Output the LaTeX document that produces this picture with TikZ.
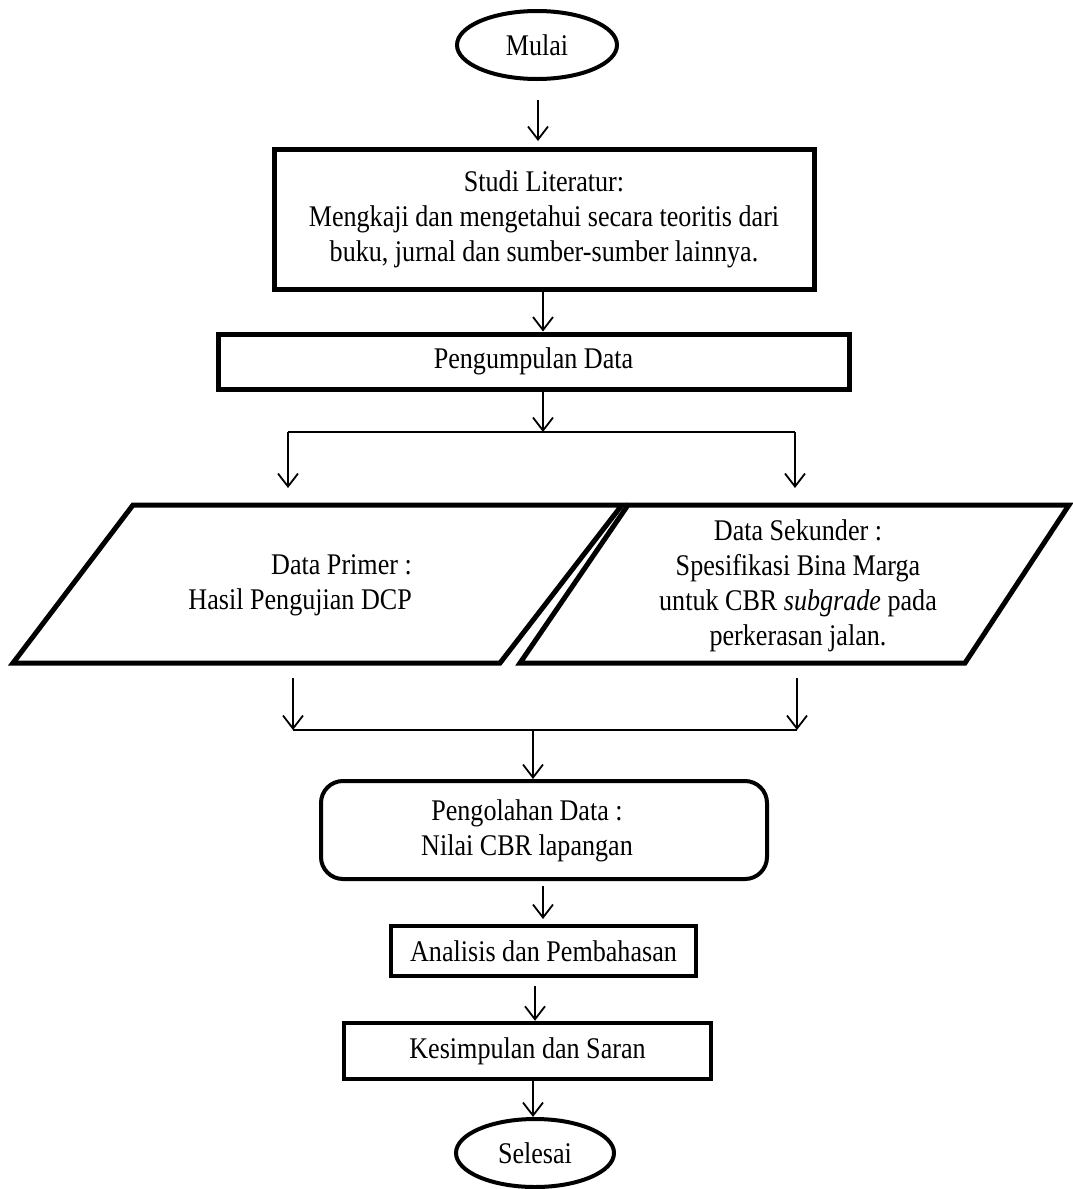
\documentclass[tikz,border=0pt]{standalone}
\usepackage{fontspec}
\setmainfont{Liberation Serif}[FakeStretch=0.87]
\usetikzlibrary{arrows.meta,shapes.geometric}
\begin{document}
\begin{tikzpicture}[x=1pt,y=-1pt,
  txt/.style={font=\fontsize{30}{35}\selectfont, align=center, inner sep=0pt},
  box/.style={draw, line width=5pt, rectangle, inner sep=0pt, txt},
  term/.style={draw, line width=4pt, ellipse, inner sep=0pt, txt},
  arr/.style={line width=1.8pt, -{Straight Barb[length=13pt,width=20pt,line width=1.8pt]}},
  ln/.style={line width=1.8pt}
]
\useasboundingbox (0,0) rectangle (1072,1189);
\fill[white] (0,0) rectangle (1072,1189);

\node[term, minimum width=160pt, minimum height=68pt] (mulai) at (537,45) {Mulai};
\node[box, minimum width=540pt, minimum height=140pt] (studi) at (544,219)
  {Studi Literatur:\\Mengkaji dan mengetahui secara teoritis dari\\buku, jurnal dan sumber-sumber lainnya.};
\node[box, minimum width=631pt, minimum height=55pt] (peng) at (533.5,361.5) {Pengumpulan Data};

\coordinate (split) at (543,432);
\coordinate (sl) at (288,432);
\coordinate (sr) at (795,432);
\coordinate (sle) at (288,488);
\coordinate (sre) at (795,488);

% parallelograms
\draw[line width=5pt, line join=miter] (133,505) -- (622,505) -- (500,663) -- (13,663) -- cycle;
\draw[line width=5pt, line join=miter] (628,505) -- (1069,505) -- (965,663) -- (520,663) -- cycle;
\node[txt, align=right, anchor=east] (prim) at (412,585) {Data Primer :\\Hasil Pengujian DCP};
\node[txt] (sek) at (798,586) {Data Sekunder :\hspace{42pt}\\Spesifikasi Bina Marga\\untuk CBR \textit{subgrade} pada\\perkerasan jalan.};

\coordinate (jls) at (293,678);
\coordinate (jrs) at (797,678);
\coordinate (jl) at (293,730);
\coordinate (jr) at (797,730);
\coordinate (jm) at (533,730);

\node[draw, line width=4pt, rounded corners=22pt, minimum width=446pt, minimum height=98pt] (olah) at (544,830) {};
\node[txt] (olahtxt) at (527,831) {Pengolahan Data :\\Nilai CBR lapangan};
\node[box, line width=4.5pt, minimum width=305pt, minimum height=50pt] (anal) at (543.5,951) {Analisis dan Pembahasan};
\node[box, line width=4.5pt, minimum width=367pt, minimum height=56pt] (kes) at (527.5,1051) {Kesimpulan dan Saran};
\node[term, minimum width=158pt, minimum height=68pt] (sel) at (535,1153) {Selesai};

% connectors
\draw[arr] (538,100) -- (538,141);
\draw[arr] (studi.south -| 543,0) -- (peng.north -| 543,0);
\draw[arr] (peng.south -| split) -- (split);
\draw[ln] (sl) -- (sr);
\draw[arr] (sl) -- (sle);
\draw[arr] (sr) -- (sre);
\draw[arr] (jls) -- (jl);
\draw[arr] (jrs) -- (jr);
\draw[ln] (jl) -- (jr);
\draw[arr] (jm) -- (olah.north -| jm);
\draw[arr] (olah.south -| 543,0) ++(0,5) -- (543,919);
\draw[arr] (anal.south -| 535,0) ++(0,8) -- (kes.north -| 535,0);
\draw[arr] (kes.south -| 533,0) -- (sel.north -| 533,0);
\end{tikzpicture}
\end{document}
